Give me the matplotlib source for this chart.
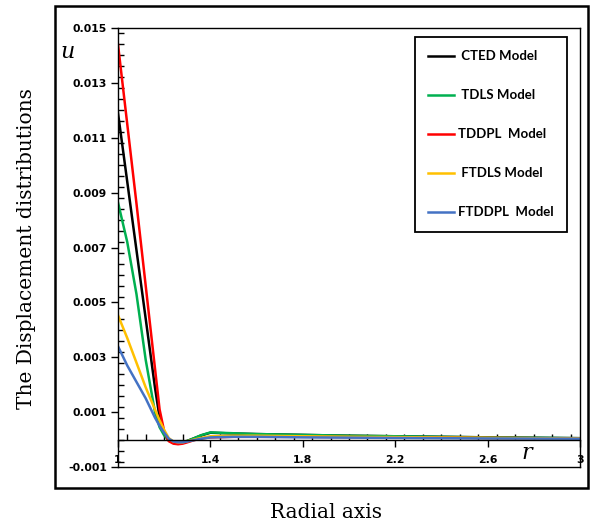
import matplotlib
matplotlib.use("Agg")
import matplotlib.pyplot as plt
from matplotlib.lines import Line2D
from matplotlib.patches import Rectangle
from matplotlib.ticker import MultipleLocator

# radial positions and displacement values
r = [1.0, 1.04, 1.08, 1.12, 1.16, 1.18, 1.2, 1.22, 1.24, 1.26, 1.28, 1.3, 1.33, 1.36,
     1.4, 1.5, 1.6, 1.8, 2.0, 2.2, 2.6, 3.0]

u_cted = [0.0119, 0.0094, 0.0069, 0.0044, 0.0019, 0.0008, 0.0002, -0.00004, -0.00011, -0.00012,
          -0.0001, -0.00005, 0.00005, 0.00015,
          0.00025, 0.00022, 0.0002, 0.00017, 0.00014, 0.00012, 0.00008, 0.00005]
u_tdls = [0.00864, 0.0072, 0.0053, 0.0029, 0.001, 0.00045, 0.00015, -0.00002, -0.00009, -0.0001,
          -0.00009, -0.00005, 0.00005, 0.00016,
          0.00026, 0.00023, 0.0002, 0.00017, 0.00014, 0.00012, 0.00008, 0.00005]
u_tddpl = [0.0144, 0.0115, 0.0086, 0.0056, 0.0026, 0.0011, 0.0003, -0.00006, -0.00015, -0.00017,
           -0.00015, -0.0001, -0.00002, 0.00004,
           0.00008, 0.0001, 0.0001, 0.0001, 0.00009, 0.00008, 0.00006, 0.00004]
u_ftdls = [0.00453, 0.0037, 0.0028, 0.0019, 0.0011, 0.0007, 0.00035, 0.00005, -0.00007, -0.0001,
           -0.0001, -0.00006, 0.0, 0.00006,
           0.00012, 0.00014, 0.00014, 0.00012, 0.0001, 0.00009, 0.00006, 0.00004]
u_ftddpl = [0.0034, 0.0027, 0.0021, 0.0015, 0.0008, 0.0005, 0.00025, 0.00003, -0.00007, -0.0001,
            -0.0001, -0.00007, -0.00002, 0.00003,
            0.00008, 0.0001, 0.0001, 0.00008, 0.00007, 0.00006, 0.00004, 0.00003]

series = [
    (u_cted, "#000000", " CTED Model"),
    (u_tdls, "#00B050", " TDLS Model"),
    (u_tddpl, "#FF0000", "TDDPL  Model"),
    (u_ftdls, "#FFC000", " FTDLS Model"),
    (u_ftddpl, "#4472C4", "FTDDPL  Model"),
]

fig = plt.figure(figsize=(5.94, 5.27), dpi=100)
W, H = 594, 527

# outer frame around the plot
fig.patches.append(Rectangle((55 / W, 1 - 488 / H), 533 / W, 482 / H,
                             transform=fig.transFigure, fill=False,
                             edgecolor="black", linewidth=1.8))

ax = fig.add_axes([118 / W, 1 - 467 / H, 462 / W, 439 / H])

for vals, col, lab in series:
    ax.plot(r, vals, color=col, lw=1.8, label=lab)

ax.set_xlim(1, 3)
ax.set_ylim(-0.001, 0.015)

# x axis sits on u = 0, box closed at the bottom
ax.spines["bottom"].set_position(("data", 0))
ax.axhline(-0.001, color="black", lw=1.0, clip_on=False)
for s in ["left", "right", "top", "bottom"]:
    ax.spines[s].set_linewidth(1.0)

ax.xaxis.set_minor_locator(MultipleLocator(0.08))
ax.yaxis.set_minor_locator(MultipleLocator(0.0004))
ax.set_xticks([1, 1.4, 1.8, 2.2, 2.6, 3])
ax.set_xticklabels(["1", "1.4", "1.8", "2.2", "2.6", "3"])
ax.set_yticks([-0.001, 0.001, 0.003, 0.005, 0.007, 0.009, 0.011, 0.013, 0.015])
ax.set_yticklabels(["-0.001", "0.001", "0.003", "0.005", "0.007",
                    "0.009", "0.011", "0.013", "0.015"])
ax.tick_params(axis="x", which="major", direction="out", length=5, width=1,
               pad=6, labelsize=7.8)
ax.tick_params(axis="x", which="minor", direction="in", length=4, width=1)
ax.tick_params(axis="y", which="major", direction="out", length=5, width=1,
               pad=3, labelsize=7.8)
ax.tick_params(axis="y", which="minor", direction="in", length=4, width=1)
for t in ax.get_xticklabels() + ax.get_yticklabels():
    t.set_fontweight("bold")

handles = [Line2D([], [], color=col, lw=1.8) for _, col, _ in series]
labels = [lab for _, _, lab in series]
leg = ax.legend(handles, labels, loc="upper right", bbox_to_anchor=(0.972, 0.9795),
                prop={"family": "Lato", "weight": "bold", "size": 9.5},
                labelspacing=2.05, borderpad=1.0, handlelength=2.0,
                handletextpad=0.3, borderaxespad=0, fancybox=False,
                framealpha=1)
leg.get_frame().set_edgecolor("black")
leg.get_frame().set_linewidth(1.3)

fig.text(68 / W, 1 - 52 / H, "u", fontsize=16, style="italic",
         family="DejaVu Serif", ha="center", va="center")
fig.text(527 / W, 1 - 453 / H, "r", fontsize=16, style="italic",
         family="DejaVu Serif", ha="center", va="center")

fig.text(27 / W, 1 - 249 / H, "The Displacement distributions", rotation=90,
         family="DejaVu Serif", fontsize=14.5, ha="center", va="center")
fig.text(326 / W, 1 - 512 / H, "Radial axis", family="DejaVu Serif",
         fontsize=14.5, ha="center", va="center")

fig.savefig("out.png", dpi=100)
